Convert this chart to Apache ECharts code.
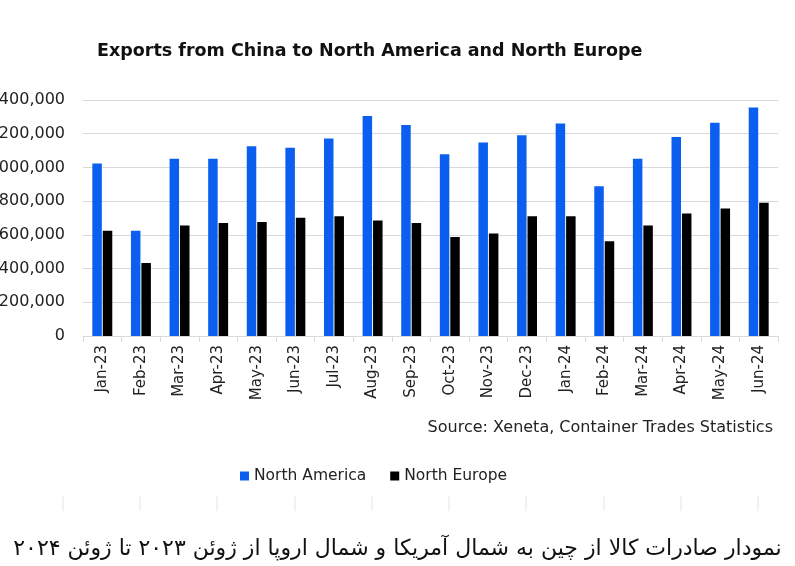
<!DOCTYPE html>
<html>
<head>
<meta charset="utf-8">
<script src="https://cdn.jsdelivr.net/npm/echarts@6/dist/echarts.min.js"></script>
<style>
html,body{margin:0;padding:0;background:#fff;}
#c{width:795px;height:566px;}
</style>
</head>
<body>
<div id="c"></div>
<script>
const categories = ['Jan-23','Feb-23','Mar-23','Apr-23','May-23','Jun-23','Jul-23','Aug-23','Sep-23','Oct-23','Nov-23','Dec-23','Jan-24','Feb-24','Mar-24','Apr-24','May-24','Jun-24'];
const northAmerica = [1023000,625000,1052000,1052000,1126000,1116000,1172000,1305000,1251000,1078000,1148000,1191000,1261000,889000,1052000,1181000,1265000,1356000];
const northEurope = [625000,433000,655000,671000,677000,701000,711000,685000,671000,588000,608000,711000,711000,562000,655000,727000,757000,790000];
const seriesNames = ['North America','North Europe'];
const titleText = 'Exports from China to North America and North Europe';
const sourceText = 'Source: Xeneta, Container Trades Statistics';
const captionText = 'نمودار صادرات کالا از چین به شمال آمریکا و شمال اروپا از ژوئن ۲۰۲۳ تا ژوئن ۲۰۲۴';

const font = '"DejaVu Sans", sans-serif';
const chart = echarts.init(document.getElementById('c'), null, {renderer:'canvas'});

const dashXs = [63,140,217,295,372,449,526,604,681,758];
const graphics = [
  {type:'text', right:22, top:420, style:{text:sourceText, font:'16px ' + font, fill:'#222'}},
  {type:'text', left:'center', top:538, style:{text:captionText, font:'22px "DejaVu Sans", sans-serif', fill:'#111'}}
];
dashXs.forEach(x => graphics.push({type:'line', shape:{x1:x,y1:496,x2:x,y2:511}, style:{stroke:'#e4e4e4', lineWidth:1}}));

chart.setOption({
  backgroundColor:'#fff',
  animation:false,
  title:{text:titleText, left:92, top:37, textStyle:{fontFamily:font, fontWeight:'bold', fontSize:17.5, color:'#111'}},
  legend:{data:seriesNames, left:235, top:463, icon:'rect', itemWidth:9, itemHeight:9, itemGap:24,
    textStyle:{fontFamily:font, fontSize:15.5, color:'#222'}},
  grid:{left:83, right:17, top:100, bottom:230, containLabel:false, outerBoundsMode:'none'},
  xAxis:{type:'category', data:categories,
    axisLine:{lineStyle:{color:'#d9d9d9'}},
    axisTick:{show:true, length:6, lineStyle:{color:'#d9d9d9'}},
    axisLabel:{interval:0, rotate:90, margin:9, fontFamily:font, fontSize:15, color:'#222'}},
  yAxis:{type:'value', min:0, max:1400000, interval:200000,
    axisLine:{show:false}, axisTick:{show:false},
    splitLine:{lineStyle:{color:'#d9d9d9'}},
    axisLabel:{margin:18, fontFamily:font, fontSize:16, color:'#222',
      formatter:v=>v.toLocaleString('en-US')}},
  series:[
    {name:seriesNames[0], type:'bar', data:northAmerica, barWidth:9.5, barGap:'10%', itemStyle:{color:'#0B5FF0'}},
    {name:seriesNames[1], type:'bar', data:northEurope, barWidth:9.5, itemStyle:{color:'#000'}}
  ],
  graphic:graphics
});
</script>
</body>
</html>
